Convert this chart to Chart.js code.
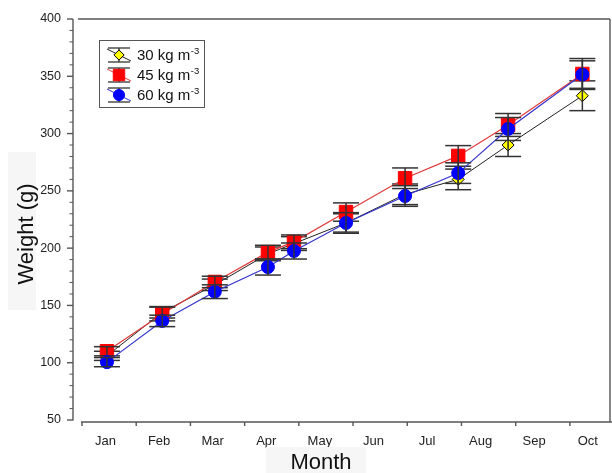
<!DOCTYPE html>
<html><head><meta charset="utf-8">
<script src="https://cdn.jsdelivr.net/npm/chart.js@4.4.0/dist/chart.umd.min.js"></script>
<style>html,body{margin:0;padding:0;background:#fff;overflow:hidden;}</style>
</head><body>
<canvas id="c" width="612" height="473"></canvas>
<script>
// ---- data ----
const monthLabels = ['Jan','Feb','Mar','Apr','May','Jun','Jul','Aug','Sep','Oct'];
const sampleTime = [0.46, 1.48, 2.45, 3.43, 3.91, 4.87, 5.96, 6.94, 7.86, 9.23];
const weight30 = [106, 144, 168, 195, 204, 222, 247, 260, 290, 333];
const weight45 = [110, 142.5, 170.5, 196.5, 205.5, 231.5, 261, 280.5, 307.5, 352];
const weight60 = [100.5, 136.5, 162, 183.5, 197.5, 222, 245.5, 265.5, 304, 351.5];
const err30 = [4, 5, 5, 6, 6, 8, 9, 9, 10, 13];
const err45 = [4, 6, 5, 6, 6, 8, 9, 9, 10, 13.5];
const err60 = [4, 5, 6, 7, 7, 9, 9, 9, 10, 12];
const yTicks = [50, 100, 150, 200, 250, 300, 350, 400];
const seriesNames = ['30 kg m', '45 kg m', '60 kg m'];
const unitSup = '-3';
const xTitle = 'Month';
const yTitle = 'Weight (g)';

const FONT = '"Liberation Sans", Arial, sans-serif';
const toXY = (ys) => ys.map((v, i) => ({x: sampleTime[i], y: v}));

const datasets = [
  {label: seriesNames[0], data: toXY(weight30), err: err30, order: 3,
   borderColor: '#222', borderWidth: 1, pointStyle: 'rectRot', pointRadius: 6,
   pointBackgroundColor: '#ffff00', pointBorderColor: '#000', pointBorderWidth: 1,
   legendLine: '#222'},
  {label: seriesNames[1], data: toXY(weight45), err: err45, order: 2,
   borderColor: '#e03a3a', borderWidth: 1.2, pointStyle: 'rect', pointRadius: 9.5,
   pointBackgroundColor: '#ff0000', pointBorderColor: '#ff0000', pointBorderWidth: 1,
   legendLine: '#e03a3a'},
  {label: seriesNames[2], data: toXY(weight60), err: err60, order: 1,
   borderColor: '#3333cc', borderWidth: 1.2, pointStyle: 'circle', pointRadius: 6.5,
   pointBackgroundColor: '#0000ff', pointBorderColor: '#0000ff', pointBorderWidth: 1,
   legendLine: '#3333cc'}
];

function ln(ctx, x1, y1, x2, y2) { ctx.beginPath(); ctx.moveTo(x1, y1); ctx.lineTo(x2, y2); ctx.stroke(); }

const framePlugin = {
  id: 'frame',
  beforeDatasetsDraw(chart) {
    const {ctx, chartArea: a, scales: {x, y}} = chart;
    ctx.save();
    ctx.strokeStyle = '#555'; ctx.lineWidth = 1.4;
    const yx = a.left - 9;
    ln(ctx, yx, y.getPixelForValue(y.max), yx, y.getPixelForValue(y.min) + 0.5);
    yTicks.forEach(v => { const p = y.getPixelForValue(v); ln(ctx, yx - 6, p, yx, p); });
    ctx.lineWidth = 1;
    for (let v = y.min; v <= y.max; v += 10) {
      if (v % 50 === 0) continue;
      const p = y.getPixelForValue(v); ln(ctx, yx - 3.5, p, yx, p);
    }
    ctx.lineWidth = 1.4;
    const xy = a.bottom + 2;
    ln(ctx, a.left - 1, xy, chart.width, xy);
    for (let k = 0; k <= Math.floor(x.max); k++) {
      const p = x.getPixelForValue(k); ln(ctx, p, xy, p, xy + 4);
    }
    ln(ctx, a.left - 4, a.top, a.right, a.top);
    ln(ctx, a.right, a.top, a.right, a.bottom + 2);
    ctx.restore();
  },
  afterDatasetDraw(chart, args) {
    const ds = chart.data.datasets[args.index];
    const {ctx, scales: {x, y}} = chart;
    ctx.save();
    ctx.strokeStyle = '#333'; ctx.lineWidth = 1.5;
    ds.data.forEach((pt, i) => {
      const px = x.getPixelForValue(pt.x);
      const top = y.getPixelForValue(pt.y + ds.err[i]);
      const bot = y.getPixelForValue(pt.y - ds.err[i]);
      ln(ctx, px, top, px, bot);
      ln(ctx, px - 13, top, px + 13, top);
      ln(ctx, px - 13, bot, px + 13, bot);
    });
    ctx.restore();
  },
  afterDraw(chart) {
    const {ctx} = chart;
    ctx.save();
    // axis titles
    ctx.fillStyle = '#f6f6f6';
    ctx.fillRect(266, 447, 100, 26);
    ctx.fillRect(8, 152, 28, 158);
    ctx.fillStyle = '#111';
    ctx.font = '22px ' + FONT;
    ctx.textAlign = 'center'; ctx.textBaseline = 'alphabetic';
    ctx.fillText(xTitle, 321, 469);
    ctx.save();
    ctx.translate(33, 234); ctx.rotate(-Math.PI / 2);
    ctx.fillText(yTitle, 0, 0);
    ctx.restore();
    // legend
    ctx.strokeStyle = '#555'; ctx.lineWidth = 1;
    ctx.fillStyle = '#fff';
    ctx.fillRect(99.5, 40.5, 105, 67);
    ctx.strokeRect(99.5, 40.5, 105, 67);
    chart.data.datasets.forEach((ds, i) => {
      const cy = 55 + i * 20, cx = 119;
      ctx.strokeStyle = ds.legendLine; ctx.lineWidth = 1;
      ln(ctx, cx - 12, cy - 6, cx + 12, cy + 6);
      ctx.strokeStyle = '#333'; ctx.lineWidth = 1.3;
      ln(ctx, cx, cy - 7, cx, cy + 7);
      ln(ctx, cx - 11, cy - 7, cx + 11, cy - 7);
      ln(ctx, cx - 11, cy + 7, cx + 11, cy + 7);
      ctx.fillStyle = ds.pointBackgroundColor;
      ctx.strokeStyle = ds.pointBorderColor; ctx.lineWidth = 1;
      Chart.helpers.drawPoint(ctx, {pointStyle: ds.pointStyle, radius: ds.pointRadius * 0.85, borderWidth: 1}, cx, cy);
      ctx.fillStyle = '#111';
      ctx.textAlign = 'left'; ctx.textBaseline = 'middle';
      ctx.font = '15px ' + FONT;
      ctx.fillText(ds.label, 137, cy + 1);
      const w = ctx.measureText(ds.label).width;
      ctx.font = '9.5px ' + FONT;
      ctx.fillText(unitSup, 137 + w + 0.5, cy - 4);
    });
    ctx.restore();
  }
};

new Chart(document.getElementById('c'), {
  type: 'line',
  data: {datasets},
  options: {
    responsive: false, animation: false, devicePixelRatio: 1,
    layout: {autoPadding: false, padding: {top: 19, right: 2, left: 0, bottom: 0}},
    plugins: {legend: {display: false}, tooltip: {enabled: false}},
    elements: {line: {tension: 0}},
    scales: {
      x: {
        type: 'linear', min: 0, max: 9.74,
        grid: {display: false, drawTicks: false}, border: {display: false},
        afterBuildTicks: s => { s.ticks = monthLabels.map((m, i) => ({value: 0.434 + i * 0.9884})); },
        ticks: {callback: (v, i) => monthLabels[i], autoSkip: false, maxRotation: 0,
                font: {size: 13, family: FONT}, color: '#222', padding: 14},
        afterFit: s => { s.height = 53; s.paddingLeft = 0; s.paddingRight = 0; s.paddingTop = 0; s.paddingBottom = 0; }
      },
      y: {
        min: 50, max: 400,
        grid: {display: false, drawTicks: false}, border: {display: false},
        afterBuildTicks: s => { s.ticks = yTicks.map(v => ({value: v})); },
        ticks: {font: {size: 12.5, family: FONT}, color: '#222', padding: 21},
        afterFit: s => { s.width = 82; s.paddingLeft = 0; s.paddingRight = 0; s.paddingTop = 0; s.paddingBottom = 0; }
      }
    }
  },
  plugins: [framePlugin]
});
</script>
</body></html>
